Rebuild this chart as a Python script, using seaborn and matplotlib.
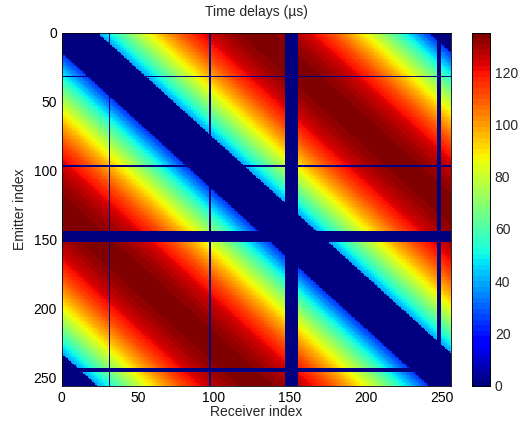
import numpy as np
import pandas as pd
import matplotlib
matplotlib.use("Agg")
import matplotlib.pyplot as plt
import seaborn as sns

# ring of 256 transducers, delay read along row 0 vs offset k = (receiver - emitter) mod 256
n_elements = 256
offset_k = [0, 16, 32, 48, 64, 80, 96, 112, 128, 144, 160, 176, 192, 208, 224, 240, 256]
delay_us = [0, 26, 52, 75, 95, 112, 125, 132, 135, 132, 125, 112, 95, 75, 52, 26, 0]

# offsets blanked to zero around the diagonal
blank_lo = 24
blank_hi = 242

# dead elements (zeroed rows / columns)
dead_emitters = [31, 96, 144, 145, 146, 147, 148, 149, 150, 151, 243, 244, 245]
dead_receivers = [31, 97, 147, 148, 149, 150, 151, 152, 153, 154, 247, 248]

rows = np.arange(n_elements)[:, None]
cols = np.arange(n_elements)[None, :]
k = (cols - rows) % n_elements
delays = np.interp(k, offset_k, delay_us)
delays[(k < blank_lo) | (k >= blank_hi)] = 0
delays[dead_emitters, :] = 0
delays[:, dead_receivers] = 0
df = pd.DataFrame(delays)

sns.set_style("white")
plt.rcParams['font.family'] = ['Liberation Sans', 'DejaVu Sans']

fig = plt.figure(figsize=(5.24, 4.26), dpi=100)
ax = fig.add_axes([0.118, 0.094, 0.743, 0.829])
cax = fig.add_axes([0.901, 0.094, 0.034, 0.829])

sns.heatmap(df, ax=ax, cbar_ax=cax, cmap=plt.get_cmap('jet', 64), vmin=0, vmax=135,
            xticklabels=False, yticklabels=False, rasterized=True)

ticks = [0, 50, 100, 150, 200, 250]
ax.set_xticks(ticks)
ax.set_xticklabels(ticks)
ax.set_yticks(ticks)
ax.set_yticklabels(ticks)
ax.tick_params(direction='in', top=True, right=True, length=3, width=0.6, labelsize=10,
               colors='black', labelrotation=0)
for s in ax.spines.values():
    s.set_visible(True)
    s.set_linewidth(0.6)
    s.set_color('black')

ax.set_xlabel('Receiver index', fontsize=10, labelpad=0)
ax.set_ylabel('Emitter index', fontsize=10, labelpad=5)
ax.set_title('Time delays (\u00b5s)', fontsize=10, pad=12)

cax.set_yticks([0, 20, 40, 60, 80, 100, 120])
cax.tick_params(direction='in', length=3, width=0.6, labelsize=10)
for s in cax.spines.values():
    s.set_visible(True)
    s.set_linewidth(0.6)
    s.set_color('black')

fig.savefig('out.png', dpi=100)
